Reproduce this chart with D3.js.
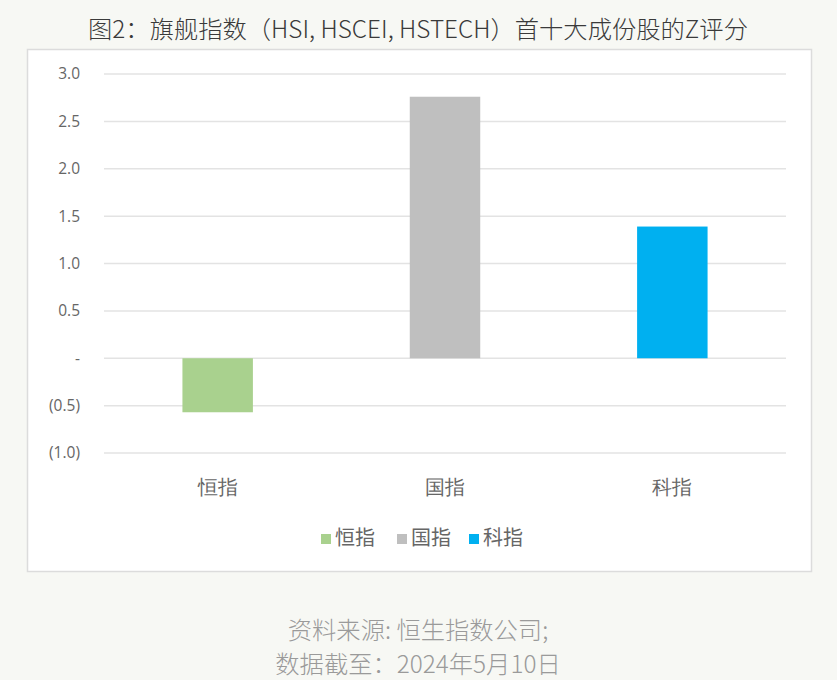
<!DOCTYPE html>
<html>
<head>
<meta charset="utf-8">
<script src="https://cdn.jsdelivr.net/npm/d3@7"></script>
<style>
  html, body { margin: 0; padding: 0; background: #f7f8f4; }
  body { width: 837px; height: 680px; overflow: hidden; font-family: "Noto Sans CJK SC", "Noto Sans", sans-serif; }
</style>
</head>
<body>
<div id="chart"></div>
<script>
// data
const categories = ['恒指', '国指', '科指'];
const zScores = [-0.57, 2.76, 1.39];
const colors = ['#a9d18e', '#bfbfbf', '#00b0f0'];
const yTicks = [3.0, 2.5, 2.0, 1.5, 1.0, 0.5, 0, -0.5, -1.0];
const titleText = '图2：旗舰指数（HSI, HSCEI, HSTECH）首十大成份股的Z评分';
const sourceLines = ['资料来源: 恒生指数公司;', '数据截至：2024年5月10日'];

const W = 837, H = 680;
const svg = d3.select('#chart').append('svg')
  .attr('width', W)
  .attr('height', H);

// title
svg.append('text')
  .attr('x', 418).attr('y', 38)
  .attr('text-anchor', 'middle')
  .attr('font-size', 24.3)
  .attr('font-weight', 300)
  .attr('fill', '#3a3a3a')
  .text(titleText);

// white chart box
svg.append('rect')
  .attr('x', 27.5).attr('y', 49.5)
  .attr('width', 784).attr('height', 522)
  .attr('fill', '#fff')
  .attr('stroke', '#dcdcdc')
  .attr('stroke-width', 1.5);

const margin = { top: 74, left: 104, right: 786, bottom: 453 };

const x = d3.scaleBand()
  .domain(categories)
  .range([margin.left, margin.right])
  .paddingInner(0.69)
  .paddingOuter(0.345);

const y = d3.scaleLinear()
  .domain([-1.0, 3.0])
  .range([margin.bottom, margin.top]);

const fmt = v => {
  if (Math.abs(v) < 1e-9) return '-';
  const s = Math.abs(v).toFixed(1);
  return v < 0 ? `(${s})` : s;
};

// gridlines
svg.append('g')
  .selectAll('line')
  .data(yTicks)
  .join('line')
  .attr('x1', margin.left).attr('x2', margin.right)
  .attr('y1', d => y(d)).attr('y2', d => y(d))
  .attr('stroke', '#e3e3e3')
  .attr('stroke-width', 1.5);

// y axis labels
const yAxis = svg.append('g')
  .attr('transform', `translate(${margin.left - 21},0)`)
  .call(d3.axisLeft(y).tickValues(yTicks).tickFormat(fmt).tickSize(0));
yAxis.select('.domain').remove();
yAxis.selectAll('text')
  .attr('font-size', 15.5)
  .attr('fill', '#666')
  .attr('font-family', '"Open Sans", "Noto Sans", sans-serif');

// bars
svg.append('g')
  .selectAll('rect')
  .data(zScores)
  .join('rect')
  .attr('x', (d, i) => x(categories[i]))
  .attr('width', x.bandwidth())
  .attr('y', d => y(Math.max(0, d)))
  .attr('height', d => Math.abs(y(d) - y(0)))
  .attr('fill', (d, i) => colors[i]);

// x axis labels
const xAxis = svg.append('g')
  .attr('transform', `translate(0,${margin.bottom + 24})`)
  .call(d3.axisBottom(x).tickSize(0));
xAxis.select('.domain').remove();
xAxis.selectAll('text')
  .attr('font-size', 20)
  .attr('fill', '#666');

// legend
const legendX = [321, 397, 469];
const legend = svg.append('g')
  .selectAll('g')
  .data(categories)
  .join('g')
  .attr('transform', (d, i) => `translate(${legendX[i]},538)`);
legend.append('rect')
  .attr('x', 0).attr('y', -4)
  .attr('width', 10).attr('height', 10)
  .attr('fill', (d, i) => colors[i]);
legend.append('text')
  .attr('x', 14).attr('y', 0)
  .attr('dy', '0.35em')
  .attr('font-size', 20)
  .attr('fill', '#666')
  .text(d => d);

// source notes
svg.append('g')
  .selectAll('text')
  .data(sourceLines)
  .join('text')
  .attr('x', 418)
  .attr('y', (d, i) => 639 + i * 34)
  .attr('text-anchor', 'middle')
  .attr('font-size', 24.3)
  .attr('font-weight', 300)
  .attr('fill', '#9a9a9a')
  .text(d => d);
</script>
</body>
</html>
